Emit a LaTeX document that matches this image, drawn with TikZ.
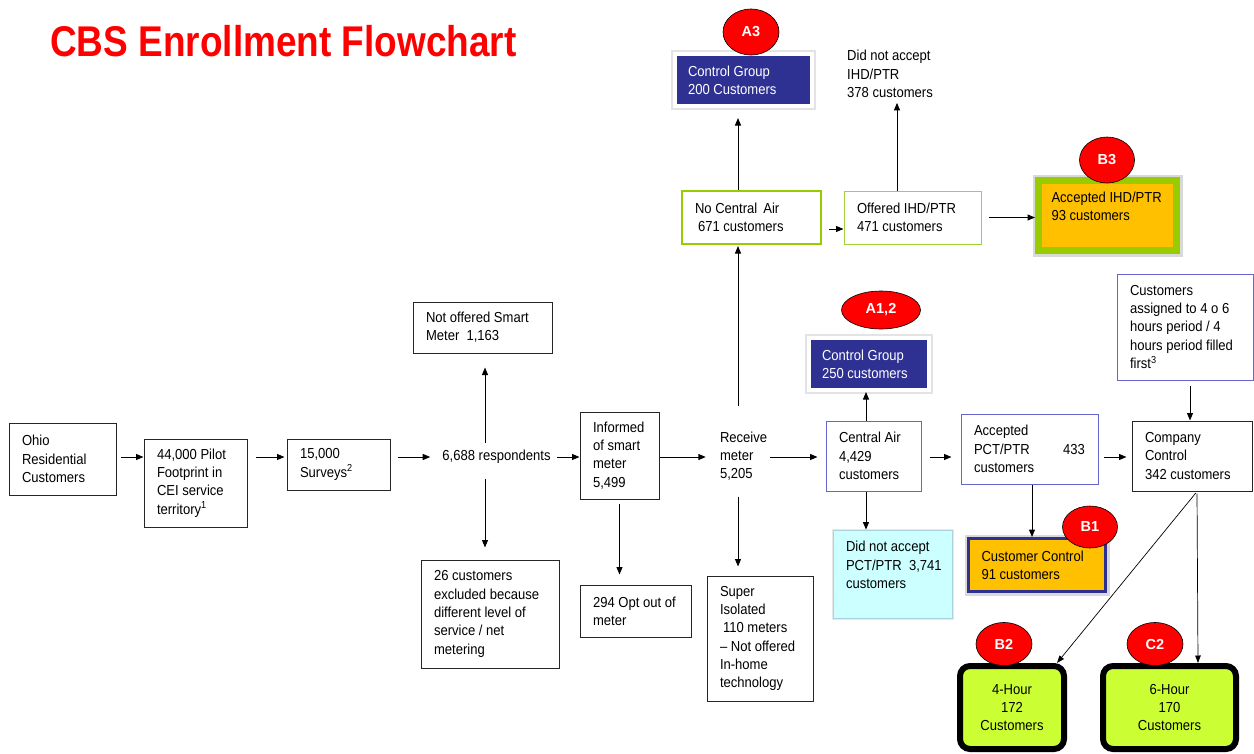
\documentclass[tikz,border=0pt]{standalone}
\usepackage{fontspec}
\setmainfont{Liberation Sans}[FakeStretch=0.9]
\newfontfamily\titlefont{Liberation Sans}[FakeStretch=0.86]
\newfontfamily\badgefam{Liberation Sans}
\usetikzlibrary{arrows.meta,shapes.geometric}
\definecolor{navy}{RGB}{46,49,146}
\definecolor{orangefill}{RGB}{255,192,0}
\definecolor{ngreen}{RGB}{153,204,0}
\definecolor{lgreen}{RGB}{160,210,60}
\definecolor{limefill}{RGB}{204,255,51}
\definecolor{cyanfill}{RGB}{204,255,255}
\definecolor{cyanborder}{RGB}{170,210,222}
\definecolor{pblue}{RGB}{102,102,204}
\newcommand\bodyfont{\fontsize{14.5}{18.3}\selectfont}
\begin{document}
\begin{tikzpicture}[x=1pt,y=-1pt,
  box/.style={draw=black!85, line width=1pt, fill=white, align=flush left, inner xsep=13pt, inner ysep=0pt, font=\bodyfont},
  sz/.style n args={2}{minimum width=#1pt, minimum height=#2pt, /utils/exec={\pgfmathsetmacro\bxtw{#1-26}}, text width=\bxtw pt},
  txt/.style={align=flush left, inner sep=0pt, font=\bodyfont},
  arr/.style={-{Triangle[length=7.5pt,width=6pt]}, line width=1pt},
  thinarr/.style={-{Triangle[length=7.5pt,width=5.5pt]}, line width=0.7pt},
  badge/.style={ellipse, draw=black, line width=0.6pt, fill=red, text=white, font=\badgefam\bfseries\fontsize{14.5}{16}\selectfont, inner sep=0pt},
  navybox/.style={fill=navy, draw=white, line width=4pt, text=white, preaction={draw=gray!22, line width=8pt}},
  accbox/.style={fill=orangefill, draw=ngreen, line width=7pt, preaction={draw=gray!30, line width=12pt}},
  custbox/.style={fill=orangefill, draw=navy, line width=3pt, preaction={draw=gray!30, line width=8pt}},
  cyanbox/.style={fill=cyanfill, draw=cyanborder, line width=0.8pt, preaction={draw=gray!18, line width=3pt}},
  hourbox/.style={box, align=center, draw=black, line width=6pt, rounded corners=10pt, fill=limefill}
]
\fill[white] (0,0) rectangle (1254,753);
\useasboundingbox (0,0) rectangle (1254,753);

% title
\node[anchor=base west, inner sep=0pt, text=red, font=\titlefont\bfseries\fontsize{43}{50}\selectfont] (title) at (50,56) {CBS Enrollment Flowchart};

% boxes
\node[box, sz={107}{72}] (ohio) at (62.5,459) {Ohio\\Residential\\Customers};
\node[box, sz={103}{88}] (pilot) at (195.5,483) {\mbox{44,000 Pilot}\\\mbox{Footprint in}\\\mbox{CEI service}\\territory\textsuperscript{1}};
\node[box, sz={103}{51}] (surveys) at (338.5,464.5) {15,000\\Surveys\textsuperscript{2}};
\node[txt] (resp) at (496.5,457) {6,688 respondents};
\node[box, sz={139}{51}] (notoff) at (482.5,327.5) {\mbox{Not offered Smart}\\Meter\ \ 1,163};
\node[box, sz={138}{108}] (excl) at (490,614) {26 customers\\\mbox{excluded because}\\\mbox{different level of}\\service / net\\metering};
\node[box, sz={79}{87}] (informed) at (619.5,455.5) {Informed\\\mbox{of smart}\\meter\\5,499};
\node[box, sz={111}{52}] (optout) at (635.5,611) {\mbox{294 Opt out of}\\meter};
\node[txt, text width=50pt] (receive) at (745,456) {Receive\\meter\\5,205};
\node[box, sz={106}{125}] (super) at (760,638.5) {Super\\Isolated\\\hspace*{3pt}110 meters\\\mbox{– Not offered}\\In-home\\technology};

\node[box, draw=ngreen, line width=2pt, sz={139}{53}] (noair) at (751.5,217.5) {No Central\hspace{6pt}Air\\\hspace*{3pt}671 customers};
\node[box, draw=lgreen, sz={137}{53}] (offered) at (912.5,217.5) {\mbox{Offered IHD/PTR}\\471 customers};
\node[txt, anchor=west] (didihd) at (847,74) {Did not accept\\IHD/PTR\\378 customers};
\node[box, navybox, sz={137}{52}] (ctrl200) at (743.5,80) {Control Group\\200 Customers};
\node[box, accbox, sz={138}{70}] (accihd) at (1107.5,215.5) {\mbox{Accepted IHD/PTR}\\93 customers\\\mbox{}};

\node[box, navybox, sz={120}{52}] (ctrl250) at (869,364) {Control Group\\250 customers};
\node[box, draw=pblue, sz={95}{70}] (central) at (873.5,456) {Central Air\\4,429\\customers};
\node[box, cyanbox, sz={119}{88}] (notpct) at (892.5,574) {Did not accept\\\mbox{PCT/PTR\ \ 3,741}\\customers\\\mbox{}};
\node[box, draw=pblue, sz={137}{70}] (accpct) at (1029.5,449) {Accepted\\PCT/PTR\hspace{0pt plus 1filll}433\\customers};
\node[box, custbox, sz={137}{53}] (custctrl) at (1037,565) {\mbox{Customer Control}\\91 customers};
\node[box, sz={120}{70}] (company) at (1192,456) {Company\\Control\\342 customers};
\node[box, draw=pblue, sz={136}{106}] (assigned) at (1185,327) {Customers\\\mbox{assigned to 4 o 6}\\\mbox{hours period / 4}\\\mbox{hours period filled}\\first\textsuperscript{3}};
\node[hourbox, sz={104}{83}] (four) at (1012,707.5) {4-Hour\\172\\Customers};
\node[hourbox, sz={133}{83}] (six) at (1169.5,707.5) {6-Hour\\170\\Customers};

% connectors
\draw[arr, shorten <=4pt] (ohio.east |- resp.center) -- (pilot.west |- resp.center);
\draw[arr, shorten <=8pt, shorten >=2pt] (pilot.east |- resp.center) -- (surveys.west |- resp.center);
\draw[arr, shorten <=7pt, shorten >=12pt] (surveys.east |- resp.center) -- (resp.west);
\draw[arr, shorten <=6pt] (resp.east) -- (informed.west |- resp.center);
\draw[arr, shorten <=7pt, shorten >=14pt] ([xshift=-11.5pt]resp.north) -- ([xshift=-11.5pt]resp.north |- notoff.south);
\draw[arr, shorten <=15pt, shorten >=12pt] ([xshift=-11.5pt]resp.south) -- ([xshift=-11.5pt]resp.south |- excl.north);
\draw[arr, shorten <=4pt, shorten >=10pt] (informed.south) -- (informed.south |- optout.north);
\draw[arr, shorten >=14pt] (informed.east |- resp.center) -- (receive.west |- resp.center);
\draw[arr, shorten >=8pt] (receive.east |- resp.center) -- (central.west |- resp.center);
\draw[arr, shorten <=16pt, shorten >=9pt] ([xshift=-7pt]receive.south) -- ([xshift=-7pt]receive.south |- super.north);
\draw[arr, shorten <=25pt, shorten >=1pt] ([xshift=-7pt]receive.north) -- ([xshift=-7pt]receive.north |- noair.south);
\draw[arr, shorten >=10pt] ([xshift=-13.5pt]noair.north) -- ([xshift=-13.5pt]noair.north |- ctrl200.south);
\draw[arr, shorten <=7pt] ([yshift=-11.5pt]noair.east) -- ([yshift=-11.5pt]noair.east -| offered.west);
\draw[arr, shorten <=7pt] (offered.east) -- (offered.east -| accihd.west);
\draw[arr, shorten >=5pt] ([xshift=-15.5pt]offered.north) -- ([xshift=-15.5pt]offered.north |- didihd.south);
\draw[arr] ([xshift=-7.5pt]central.north) -- ([xshift=-7.5pt]central.north |- ctrl250.south);
\draw[arr] ([xshift=-7.5pt]central.south) -- ([xshift=-7.5pt]central.south |- notpct.north);
\draw[arr, shorten <=8pt, shorten >=9pt] (central.east |- resp.center) -- (accpct.west |- resp.center);
\draw[arr, shorten <=5pt, shorten >=5pt] (accpct.east |- resp.center) -- (company.west |- resp.center);
\draw[arr] ([xshift=2.5pt]accpct.south) -- ([xshift=2.5pt]accpct.south |- custctrl.north);
\draw[arr, shorten <=5pt] ([xshift=5pt]assigned.south) -- ([xshift=5pt]assigned.south |- company.north);
\draw[thinarr, shorten <=2pt] ([xshift=5pt]company.south) -- ([xshift=28.5pt]six.north);
\draw[thinarr, shorten <=2pt] ([xshift=5pt]company.south) -- ([xshift=45pt]four.north);

% badges
\node[badge, minimum width=56pt, minimum height=46pt] (a3) at (751,32) {A3};
\node[badge, minimum width=55pt, minimum height=46pt] (b3) at (1107,160) {B3};
\node[badge, minimum width=79pt, minimum height=38pt] (a12) at (881,310) {A1,2};
\node[badge, minimum width=55pt, minimum height=42pt] (b1) at (1090,527) {B1};
\node[badge, minimum width=56pt, minimum height=43pt] (b2) at (1004,644) {B2};
\node[badge, minimum width=56pt, minimum height=43pt] (c2) at (1155,644) {C2};
\end{tikzpicture}
\end{document}
